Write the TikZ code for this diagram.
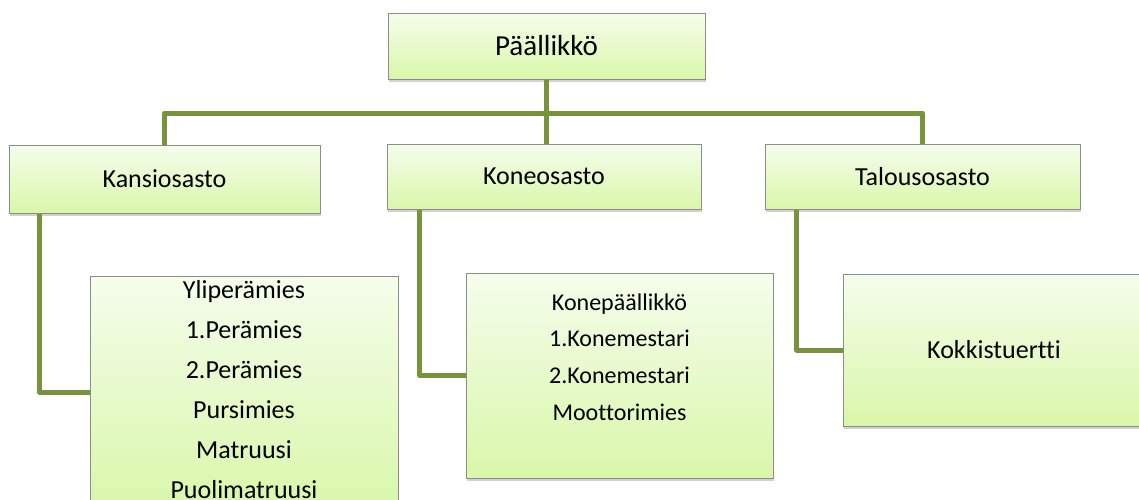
\documentclass[tikz,border=0pt]{standalone}
\usepackage{fontspec}
\setmainfont{Carlito}[Ligatures=NoCommon]
\usetikzlibrary{shadows}
\definecolor{linkgreen}{RGB}{119,147,60}
\definecolor{boxtop}{RGB}{245,253,236}
\definecolor{boxbottom}{RGB}{217,247,170}
\definecolor{boxline}{RGB}{140,140,140}
\tikzset{
  unitbox/.style={draw=boxline, line width=1pt, top color=boxtop, bottom color=boxbottom,
    drop shadow={shadow xshift=1pt, shadow yshift=-3pt, opacity=0.3, fill=black!60},
    inner sep=0pt, font=\fontsize{26}{30}\selectfont},
  link/.style={draw=linkgreen, line width=5pt, line join=round},
  crew/.style={anchor=base, inner sep=0pt},
}

\begin{document}
\begin{tikzpicture}[x=1pt, y=-1pt]
\useasboundingbox (0,0) rectangle (1139,499);
\clip (0,0) rectangle (1139,499);

\node[unitbox, minimum width=317pt, minimum height=66pt, font=\fontsize{29}{34}\selectfont] (chief) at (546.5,46) {Päällikkö};

\node[unitbox, minimum width=311pt, minimum height=68pt] (kansio) at (164.5,179) {Kansiosasto};
\node[unitbox, minimum width=314pt, minimum height=65pt] (kone) at (544,176.5) {Koneosasto};
\node[unitbox, minimum width=315pt, minimum height=65pt] (talous) at (922.5,176.5) {Talousosasto};

\node[unitbox, minimum width=308pt, minimum height=232pt] (kansioStaff) at (244,392) {};
\node[unitbox, minimum width=307pt, minimum height=205pt] (koneStaff) at (619.5,375.5) {};
\node[unitbox, minimum width=302pt, minimum height=152pt] (talousStaff) at (994,350) {Kokkistuertti};

\foreach \crewname [count=\i] in {Yliperämies, 1.Perämies, 2.Perämies, Pursimies, Matruusi, Puolimatruusi}
  \node[crew, font=\fontsize{26}{30}\selectfont] (kansioCrew\i) at (244,258+40*\i) {\crewname};

\foreach \crewname [count=\i] in {Konepäällikkö, 1.Konemestari, 2.Konemestari, Moottorimies}
  \node[crew, font=\fontsize{24}{28}\selectfont] (koneCrew\i) at (619.5,273.3+36.7*\i) {\crewname};

\coordinate (busmid) at (546.5,113);
\draw[link] (chief.south) -- (chief.south |- kone.north);
\draw[link] (kansio.north) |- (busmid) -| (talous.north);

\draw[link] ([xshift=31pt]kansio.south west) |- (kansioStaff.west);
\draw[link] ([xshift=33pt]kone.south west) |- (koneStaff.west);
\draw[link] ([xshift=32pt]talous.south west) |- (talousStaff.west);

\end{tikzpicture}
\end{document}
